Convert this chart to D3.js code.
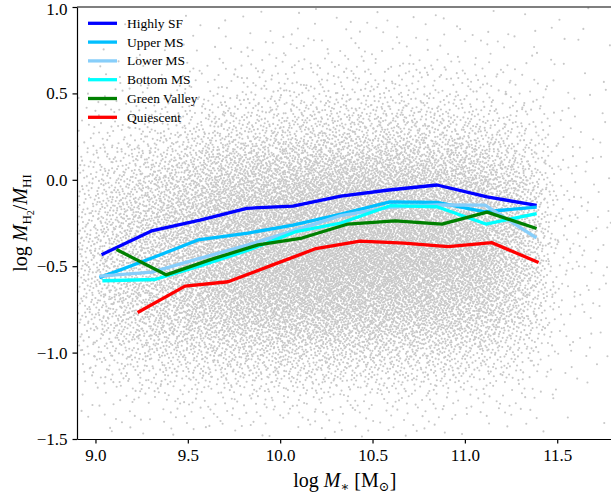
<!DOCTYPE html>
<html>
<head>
<meta charset="utf-8">
<script src="https://cdn.jsdelivr.net/npm/d3@7/dist/d3.min.js"></script>
<style>
  html, body { margin: 0; padding: 0; background: #ffffff; }
  svg { display: block; }
  text { font-family: "Liberation Serif", "DejaVu Serif", serif; fill: #000; }
</style>
</head>
<body>
<svg id="chart" width="611" height="497"></svg>
<script>
// Binned median relations of log(M_H2/M_HI) versus stellar mass, one per class
const highlySF_mass   = [9.041, 9.303, 9.566, 9.819, 10.069, 10.329, 10.589, 10.849, 11.120, 11.380];
const highlySF_ratio  = [-0.429, -0.296, -0.233, -0.165, -0.152, -0.094, -0.059, -0.030, -0.099, -0.146];

const upperMS_mass    = [9.030, 9.306, 9.555, 9.826, 10.069, 10.329, 10.595, 10.849, 11.109, 11.380];
const upperMS_ratio   = [-0.563, -0.453, -0.348, -0.308, -0.262, -0.198, -0.128, -0.131, -0.185, -0.159];

const lowerMS_mass    = [9.030, 9.306, 9.555, 9.826, 10.069, 10.329, 10.595, 10.849, 11.109, 11.380];
const lowerMS_ratio   = [-0.557, -0.534, -0.458, -0.377, -0.296, -0.207, -0.160, -0.145, -0.146, -0.331];

const bottomMS_mass   = [9.046, 9.322, 9.566, 9.826, 10.080, 10.329, 10.595, 10.849, 11.114, 11.380];
const bottomMS_ratio  = [-0.584, -0.577, -0.498, -0.408, -0.302, -0.250, -0.150, -0.156, -0.256, -0.198];

const greenValley_mass  = [9.122, 9.382, 9.631, 9.880, 10.118, 10.367, 10.622, 10.876, 11.120, 11.380];
const greenValley_ratio = [-0.408, -0.550, -0.459, -0.377, -0.337, -0.256, -0.238, -0.256, -0.187, -0.279];

const quiescent_mass  = [9.236, 9.485, 9.718, 9.956, 10.194, 10.432, 10.670, 10.909, 11.147, 11.391];
const quiescent_ratio = [-0.763, -0.615, -0.590, -0.494, -0.398, -0.355, -0.367, -0.387, -0.364, -0.475];

const seriesNames  = ["Highly SF", "Upper MS", "Lower MS", "Bottom MS", "Green Valley", "Quiescent"];
const seriesColors = ["#0000ff", "#00bfff", "#87cefa", "#00ffff", "#008000", "#ff0000"];

// Tick labels
const xTicks = [9.0, 9.5, 10.0, 10.5, 11.0, 11.5];
const yTicks = [-1.5, -1.0, -0.5, 0.0, 0.5, 1.0];

// Full galaxy sample, as galaxies per (0.2 dex x 0.25 dex) cell on a node grid
const cloudMassNodes  = [8.9, 9.1, 9.3, 9.5, 9.7, 9.9, 10.1, 10.3, 10.5, 10.7, 10.9, 11.1, 11.3, 11.5, 11.7, 11.9];
const cloudRatioNodes = [1.0, 0.75, 0.5, 0.25, 0.0, -0.25, -0.5, -0.75, -1.0, -1.25, -1.5];
const cloudDensity = [
  [0, 1, 1, 2, 2, 3, 3, 3, 3, 3, 3, 3, 3, 3, 2, 1],
  [1, 3, 5, 7, 9, 11, 12, 13, 13, 12, 11, 9, 7, 5, 3, 1],
  [5, 12, 18, 26, 35, 42, 48, 50, 50, 48, 42, 34, 20, 9, 5, 2],
  [18, 40, 60, 85, 110, 130, 145, 150, 150, 145, 130, 105, 65, 16, 8, 4],
  [45, 100, 150, 210, 270, 320, 350, 365, 365, 350, 320, 270, 165, 22, 10, 5],
  [70, 150, 230, 310, 390, 450, 490, 510, 510, 495, 460, 390, 240, 26, 12, 5],
  [80, 170, 260, 340, 410, 470, 510, 525, 520, 500, 460, 390, 235, 26, 12, 5],
  [65, 140, 200, 260, 310, 350, 375, 385, 375, 355, 320, 265, 160, 20, 9, 4],
  [30, 70, 100, 120, 135, 150, 155, 155, 150, 140, 125, 100, 62, 12, 6, 2],
  [8, 18, 25, 30, 33, 35, 36, 36, 34, 32, 28, 22, 14, 5, 2, 1],
  [1, 2, 3, 4, 4, 4, 4, 4, 4, 4, 3, 3, 2, 1, 0, 0]
];

const series = [
  { mass: highlySF_mass,    ratio: highlySF_ratio },
  { mass: upperMS_mass,     ratio: upperMS_ratio },
  { mass: lowerMS_mass,     ratio: lowerMS_ratio },
  { mass: bottomMS_mass,    ratio: bottomMS_ratio },
  { mass: greenValley_mass, ratio: greenValley_ratio },
  { mass: quiescent_mass,   ratio: quiescent_ratio }
].map((s, i) => ({
  name: seriesNames[i],
  color: seriesColors[i],
  points: s.mass.map((m, j) => [m, s.ratio[j]])
}));

const svg = d3.select("#chart");
const plotLeft = 77, plotTop = 7, plotBottom = 439;
const x = d3.scaleLinear().domain([8.9, 11.8]).range([plotLeft, plotLeft + 2.9 * 184.7]);
const y = d3.scaleLinear().domain([-1.5, 1.0]).range([plotBottom, plotTop]);
const plotRight = x(11.8);

svg.append("defs").append("clipPath").attr("id", "plotClip")
  .append("rect").attr("x", plotLeft).attr("y", plotTop)
  .attr("width", plotRight - plotLeft).attr("height", plotBottom - plotTop);

// ---- background point cloud (bilinear density, low-discrepancy placement) ----
function densityAt(m, r) {
  const nx = cloudMassNodes.length, ny = cloudRatioNodes.length;
  const fx = (m - cloudMassNodes[0]) / 0.2;
  const fy = (cloudRatioNodes[0] - r) / 0.25;
  const i0 = Math.max(0, Math.min(nx - 2, Math.floor(fx)));
  const j0 = Math.max(0, Math.min(ny - 2, Math.floor(fy)));
  const tx = Math.max(0, Math.min(1, fx - i0));
  const ty = Math.max(0, Math.min(1, fy - j0));
  const a = cloudDensity[j0][i0], b = cloudDensity[j0][i0 + 1];
  const c = cloudDensity[j0 + 1][i0], d = cloudDensity[j0 + 1][i0 + 1];
  return (a * (1 - tx) + b * tx) * (1 - ty) + (c * (1 - tx) + d * tx) * ty;
}
function halton(i, base) {
  let f = 1, r = 0;
  while (i > 0) { f /= base; r += f * (i % base); i = Math.floor(i / base); }
  return r;
}
const dMax = d3.max(cloudDensity.flat());
const mSpan = 3.0, rSpan = 2.5;
const nCand = Math.round(dMax * (mSpan / 0.2) * (rSpan / 0.25));
const cloud = [];
for (let i = 1; i <= nCand; i++) {
  const m = 8.9 + halton(i, 2) * mSpan;
  const r = -1.5 + halton(i, 3) * rSpan;
  if (halton(i, 5) * dMax < densityAt(m, r)) cloud.push([m, r]);
}

const plot = svg.append("g").attr("clip-path", "url(#plotClip)");
plot.append("g").attr("class", "cloud")
  .selectAll("circle").data(cloud).join("circle")
  .attr("cx", d => x(d[0])).attr("cy", d => y(d[1]))
  .attr("r", 1.05).attr("fill", "#c8c8c8");

// ---- median relations ----
const line = d3.line().x(d => x(d[0])).y(d => y(d[1]));
plot.append("g").attr("class", "relations")
  .selectAll("path").data(series).join("path")
  .attr("d", d => line(d.points))
  .attr("fill", "none")
  .attr("stroke", d => d.color)
  .attr("stroke-width", 3.3)
  .attr("stroke-linejoin", "round")
  .attr("stroke-linecap", "square");

// ---- axes ----
const xAxis = svg.append("g").attr("transform", `translate(0,${plotBottom})`)
  .call(d3.axisBottom(x).tickValues(xTicks).tickFormat(d3.format(".1f"))
    .tickSize(4.5).tickSizeOuter(0).tickPadding(5));
const yAxis = svg.append("g").attr("transform", `translate(${plotLeft},0)`)
  .call(d3.axisLeft(y).tickValues(yTicks).tickFormat(d3.format(".1f"))
    .tickSize(4.5).tickSizeOuter(0).tickPadding(5));
[xAxis, yAxis].forEach(g => {
  g.select(".domain").attr("stroke", "#000").attr("stroke-width", 1.2);
  g.selectAll(".tick line").attr("stroke", "#000").attr("stroke-width", 1.2);
  g.selectAll(".tick text").attr("font-family", "Liberation Serif, DejaVu Serif, serif")
    .attr("font-size", 17).attr("fill", "#000");
});
// keep the top y label inside the canvas
yAxis.selectAll(".tick text").filter(d => d === 1.0).attr("dy", "0.42em");

// top and right spines
svg.append("line").attr("x1", plotLeft).attr("x2", plotRight).attr("y1", plotTop).attr("y2", plotTop)
  .attr("stroke", "#000").attr("stroke-width", 1.2);
svg.append("line").attr("x1", plotRight).attr("x2", plotRight).attr("y1", plotTop).attr("y2", plotBottom)
  .attr("stroke", "#000").attr("stroke-width", 1.2);

// ---- axis titles with subscripts ----
function mathText(sel, parts) {
  let cur = 0;
  parts.forEach(p => {
    const shift = p.shift || 0;
    const t = sel.append("tspan")
      .attr("dy", shift - cur)
      .attr("font-style", p.italic ? "italic" : "normal")
      .text(p.t);
    if (p.size) t.attr("font-size", p.size);
    cur = shift;
  });
}
const xLabel = svg.append("text")
  .attr("x", (plotLeft + plotRight) / 2).attr("y", 487)
  .attr("text-anchor", "middle").attr("font-size", 20);
mathText(xLabel, [
  { t: "log " },
  { t: "M", italic: true },
  { t: "\u2217", size: 13, shift: 4 },
  { t: " [M", shift: 0 },
  { t: "\u2299", size: 13, shift: 4 },
  { t: "]", shift: 0 }
]);

const yLabel = svg.append("text")
  .attr("transform", `translate(27,${(plotTop + plotBottom) / 2}) rotate(-90)`)
  .attr("text-anchor", "middle").attr("font-size", 20);
mathText(yLabel, [
  { t: "log " },
  { t: "M", italic: true },
  { t: "H", size: 13, shift: 4 },
  { t: "2", size: 10, shift: 7 },
  { t: "/", shift: 0 },
  { t: "M", italic: true },
  { t: "HI", size: 13, shift: 4 }
]);

// ---- legend ----
const legend = svg.append("g").attr("class", "legend");
const legendRows = legend.selectAll("g").data(series).join("g")
  .attr("transform", (d, i) => `translate(88,${23.3 + i * 18.8})`);
legendRows.append("line")
  .attr("x1", 0).attr("x2", 29).attr("y1", 0).attr("y2", 0)
  .attr("stroke", d => d.color).attr("stroke-width", 3.3);
legendRows.append("text")
  .attr("x", 39).attr("y", 4.5)
  .attr("font-size", 13.5)
  .text(d => d.name);
</script>
</body>
</html>
